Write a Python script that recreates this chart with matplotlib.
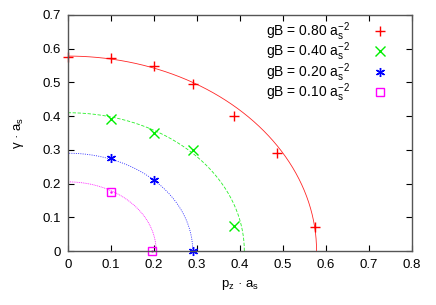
import numpy as np
import matplotlib.pyplot as plt

plt.rcParams['font.family'] = ['Liberation Sans', 'DejaVu Sans']
plt.rcParams['font.size'] = 9.5

# measured points (p_z * a_s, gamma * a_s)
labels = ['0.80', '0.40', '0.20', '0.10']
px_080 = [0.0, 0.1, 0.2, 0.29, 0.385, 0.485, 0.575]
py_080 = [0.575, 0.573, 0.55, 0.495, 0.40, 0.29, 0.07]
px_040 = [0.1, 0.2, 0.29, 0.385]
py_040 = [0.39, 0.35, 0.30, 0.075]
px_020 = [0.1, 0.2, 0.29]
py_020 = [0.275, 0.21, 0.0]
px_010 = [0.1, 0.195]
py_010 = [0.175, 0.0]
# radius of the fitted quarter circles
radii = [0.578, 0.41, 0.29, 0.205]

colors = ['red', '#00ee00', 'blue', 'magenta']
markers = ['+', 'x', (6, 2, 0), 's']
dashes = ['-', (0, (4, 2)), (0, (1.2, 1.5)), (0, (1.2, 1.0))]
xs = [px_080, px_040, px_020, px_010]
ys = [py_080, py_040, py_020, py_010]

fig = plt.figure(figsize=(4.36, 3.05), dpi=100)
ax = fig.add_axes([0.156, 0.177, 0.789, 0.774])

for r, c, ls in zip(radii, colors, dashes):
    t = np.linspace(0, np.pi / 2, 200)
    ax.plot(r * np.cos(t), r * np.sin(t), color=c, lw=0.6, ls=ls, alpha=0.85)

for x, y, c, m, lab in zip(xs, ys, colors, markers, labels):
    name = 'gB = ' + lab + r' a$_\mathregular{s}^\mathregular{-2}$'
    if m == 's':
        ax.plot(x, y, ls='none', marker='s', ms=6, mfc='none', mec=c, mew=1.0,
                label=name, clip_on=False)
        ax.plot(x, y, ls='none', marker='.', ms=1.5, color=c, clip_on=False)
    else:
        ax.plot(x, y, ls='none', marker=m, ms=6.5, color=c, mew=1.0,
                label=name, clip_on=False)

ax.set_xlim(0, 0.8)
ax.set_ylim(0, 0.7)
ax.set_xticks(np.arange(0, 0.81, 0.1))
ax.set_yticks(np.arange(0, 0.71, 0.1))
ax.set_xticklabels(['0', '0.1', '0.2', '0.3', '0.4', '0.5', '0.6', '0.7', '0.8'])
ax.set_yticklabels(['0', '0.1', '0.2', '0.3', '0.4', '0.5', '0.6', '0.7'])
ax.tick_params(direction='in', top=True, right=True, length=4, width=0.8)
ax.tick_params(axis='x', pad=6)
ax.tick_params(axis='y', pad=5)
for s in ax.spines.values():
    s.set_linewidth(1.0)
    s.set_color('#555555')

ax.set_xlabel(r'p$_\mathregular{z}$ · a$_\mathregular{s}$', labelpad=5)
ax.set_ylabel(r'γ · a$_\mathregular{s}$', labelpad=12)

ax.legend(loc='upper right', bbox_to_anchor=(0.965, 1.02), markerfirst=False,
          frameon=False, handletextpad=1.4, labelspacing=-0.15, borderaxespad=0.3,
          handlelength=1.5, fontsize=10)

fig.savefig('out.png', dpi=100)
